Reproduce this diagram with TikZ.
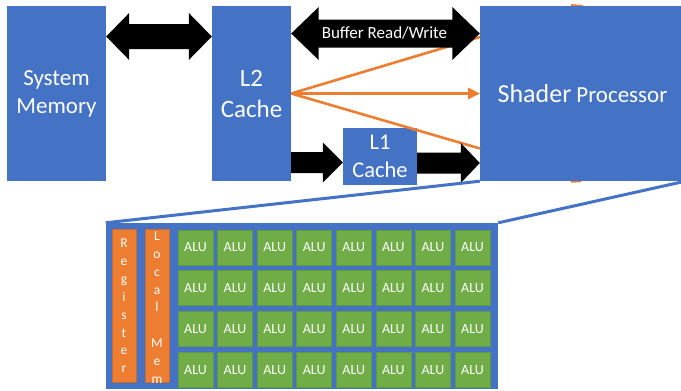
\documentclass[tikz,border=0pt]{standalone}
\usepackage{fontspec}
\setmainfont{Carlito}
\usetikzlibrary{calc,arrows.meta}
\definecolor{mblue}{HTML}{4472C4}
\definecolor{morange}{HTML}{ED7D31}
\definecolor{mgreen}{HTML}{70AD47}
\definecolor{mgreenD}{HTML}{5E9B3B}
\tikzset{
  bbox/.style={fill=mblue, inner sep=0pt, text=white, align=center},
  alubox/.style={fill=mgreen, draw=mgreenD, line width=0.5pt, inner sep=0pt,
     minimum width=35pt, minimum height=35pt, text=white, font=\fontsize{14}{16}\selectfont},
  barbox/.style={fill=morange, draw=morange!85!black, line width=0.4pt, inner sep=0pt,
     minimum width=24pt, minimum height=153pt},
  oline/.style={draw=morange, line width=2.6pt},
  trap/.style={draw=mblue, line width=3pt},
}
% double block arrow: #1 left anchor, #2 right anchor, #3 y centre, #4 shaft half, #5 head half, #6 head length
\newcommand\mydblarrow[6]{%
  \fill[black] let \p1=(#1), \p2=(#2) in
    (\x1,#3) -- ({\x1+#6},{#3+#5}) -- ({\x1+#6},{#3+#4}) -- ({\x2-#6},{#3+#4})
    -- ({\x2-#6},{#3+#5}) -- (\x2,#3) -- ({\x2-#6},{#3-#5}) -- ({\x2-#6},{#3-#4})
    -- ({\x1+#6},{#3-#4}) -- ({\x1+#6},{#3-#5}) -- cycle;}
\newcommand\mysglarrow[6]{%
  \fill[black] let \p1=(#1), \p2=(#2) in
    (\x1,{#3+#4}) -- ({\x2-#6},{#3+#4}) -- ({\x2-#6},{#3+#5}) -- (\x2,#3)
    -- ({\x2-#6},{#3-#5}) -- ({\x2-#6},{#3-#4}) -- (\x1,{#3-#4}) -- cycle;}
\begin{document}
\begin{tikzpicture}[x=1pt,y=-1pt]
\useasboundingbox (0,0) rectangle (681,391);

% small orange slivers behind the shader box
\draw[morange, line width=2.2pt] (571,5.2) -- (583,6.2);
\draw[morange, line width=2.2pt] (571,181.6) -- (581,181.2);

% boxes
\node[bbox, minimum width=99pt, minimum height=175pt, font=\fontsize{23}{28}\selectfont] (sys) at (56.5,93.5) {\raisebox{-2pt}{System}\\\raisebox{-2pt}{Memory}};
\node[bbox, minimum width=79pt, minimum height=175pt, font=\fontsize{25}{31}\selectfont] (l2) at (251.5,93.5) {\raisebox{-2pt}{L2}\\\raisebox{-2pt}{Cache}};
\node[bbox, minimum width=205pt, minimum height=175pt] (sp) at (582.5,93.5) {{\fontsize{26}{30}\selectfont Shader}\hspace{5pt}{\fontsize{23}{28}\selectfont Processor}};
\node[bbox, minimum width=74pt, minimum height=57pt, font=\fontsize{22.5}{28}\selectfont] (l1) at (380,156.5) {L1\\Cache};

% orange connectors L2 -> shader
\coordinate (t1) at (480,37);
\coordinate (t2) at (480,93.5);
\coordinate (t3) at (480,148.5);
\draw[oline] (l2.east) -- (t1);
\draw[oline] (l2.east) -- (t3);
\draw[oline, -{Triangle[length=12pt,width=11pt]}] (l2.east) -- (t2);

% black block arrows
\mydblarrow{sys.east}{l2.west}{-36.5pt}{12.5pt}{23.5pt}{23pt}
\mydblarrow{l2.east}{sp.west}{-33.5pt}{14pt}{26.5pt}{27.5pt}
\node[text=white, font=\fontsize{17}{20}\selectfont, inner sep=0pt] (buf) at (384.5,33) {Buffer Read/Write};
\mysglarrow{l2.east}{l1.west}{-162.5pt}{10.5pt}{20pt}{20pt}
\mysglarrow{l1.east}{sp.west}{-163pt}{10.5pt}{20pt}{19pt}

% bottom panel
\node[fill=mblue, inner sep=0pt, minimum width=392pt, minimum height=166pt] (panel) at (302,306) {};
\draw[trap] (panel.north west) -- (sp.south west);
\draw[trap] (panel.north east) -- (sp.south east);

\node[barbox] (reg) at (124,305.5) {};
\node[barbox] (lm) at (157,305.5) {};
\begin{scope}[font=\fontsize{13.5}{15}\selectfont, text=white]
\foreach \l [count=\i] in {R,e,g,i,s,t,e,r}
  \node[anchor=base, inner sep=0pt] (r\i) at ({124},{247.5+(\i-1)*17.9}) {\l};
\begin{scope}
\clip (lm.south west) rectangle (lm.north east);
\foreach \l [count=\i] in {L,o,c,a,l,{},M,e,m}
  \node[anchor=base, inner sep=0pt] (m\i) at ({157},{240.5+(\i-1)*17.85}) {\l};
\end{scope}
\end{scope}

% ALU grid
\foreach \c in {0,...,7}
  \foreach \r in {0,...,3}
    \node[alubox] (alu\c\r) at ({195.5+\c*39.57},{247.5+\r*40.7}) {ALU};
\end{tikzpicture}
\end{document}
